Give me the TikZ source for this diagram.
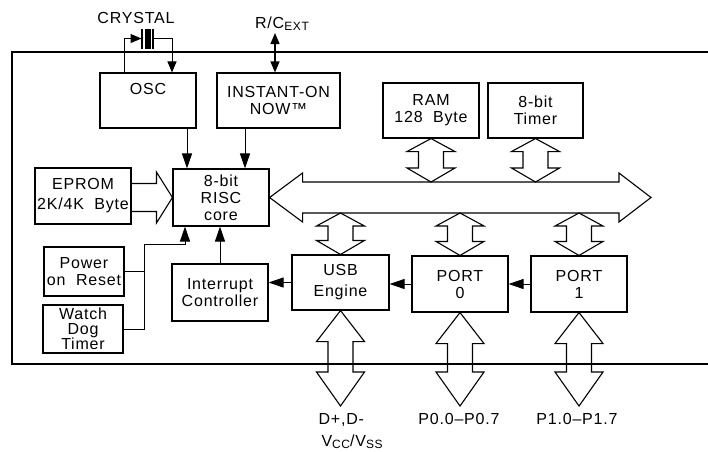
\documentclass[tikz,border=0pt]{standalone}
\usepackage{fontspec}
\setmainfont{Liberation Sans}[LetterSpace=5]
\usetikzlibrary{arrows.meta,calc,positioning}

\newcommand{\lowsub}[1]{\raisebox{-2.5pt}{\fontsize{12}{12}\selectfont #1}}
% hollow double block arrow, top point to bottom point
\newcommand{\vbusarrow}[4]{%
  \draw[bus] let \p1=#1, \p2=#2 in
    (\x1,\y1) -- ($(\x1,\y1)+(24,#3)$) -- ($(\x1,\y1)+(12.5,#3)$)
    -- ($(\x1,\y2)+(12.5,-#4)$) -- ($(\x1,\y2)+(24,-#4)$) -- (\x1,\y2)
    -- ($(\x1,\y2)+(-24,-#4)$) -- ($(\x1,\y2)+(-12.5,-#4)$)
    -- ($(\x1,\y1)+(-12.5,#3)$) -- ($(\x1,\y1)+(-24,#3)$) -- cycle;}

\tikzset{
  blk/.style={draw, line width=1.1pt, inner sep=0pt, align=center},
  sig/.style={-{Triangle[length=15pt,width=10pt]}, line width=1pt},
  xsig/.style={-{Triangle[length=11pt,width=9pt]}, line width=1pt},
  dsig/.style={{Triangle[length=11pt,width=9pt]}-{Triangle[length=11pt,width=9pt]}, line width=1.3pt},
  bus/.style={line width=1.1pt, line join=miter},
}

\begin{document}
\begin{tikzpicture}[x=1pt,y=-1pt,
  every node/.style={font=\fontsize{16}{17}\selectfont}]
\useasboundingbox (0,0) rectangle (708,451);

% chip outline
\draw[line width=1.1pt] (708,52) -| (12,364) -- (708,364);

% blocks
\node[blk, minimum width=96pt, minimum height=55pt] (osc) at (148,100.5) {};
\node[anchor=base] (osctxt) at ([yshift=-22pt]osc.north) {OSC};
\node[blk, minimum width=123pt, minimum height=55pt] (inst) at (278.5,100.5) {INSTANT-ON\\NOW™};
\node[blk, minimum width=96pt, minimum height=55pt] (ram) at (431,110.5) {RAM\\128\ \ Byte};
\node[blk, minimum width=95pt, minimum height=55pt] (timer) at (535.5,110.5) {8-bit\\Timer};
\node[blk, minimum width=96pt, minimum height=56pt] (eprom) at (83,196) {EPROM\\[3pt]2K/4K\ \ Byte};
\node[blk, minimum width=96pt, minimum height=57pt] (risc) at (221,197.5) {8-bit\\RISC\\core};
\node[blk, minimum width=80pt, minimum height=49pt] (por) at (84,271.5) {Power\\on\ \ Reset};
\node[blk, minimum width=80pt, minimum height=48pt,
  font=\fontsize{16}{14.5}\selectfont] (wdt) at (83,329) {Watch\\Dog\\Timer};
\node[blk, minimum width=96pt, minimum height=57pt] (intc) at (220,292.5) {Interrupt\\Controller};
\node[blk, minimum width=97pt, minimum height=55pt] (usb) at (340.5,282.5) {USB\\[4pt]Engine};
\node[blk, minimum width=96pt, minimum height=56pt] (port0) at (460,284) {PORT\\0};
\node[blk, minimum width=96pt, minimum height=56pt] (port1) at (579,284) {PORT\\1};

% crystal
\coordinate (xtal) at (147.5,38.5);
\coordinate (xtalL) at ($(xtal)+(-6,0)$);
\coordinate (xtalR) at ($(xtal)+(6,0)$);
\fill ($(xtal)+(-3,-10)$) rectangle ($(xtal)+(3,10)$);
\draw[line width=1.5pt] ($(xtal)+(-5.5,-10)$) -- ($(xtal)+(-5.5,10)$)
  ($(xtal)+(5.5,-10)$) -- ($(xtal)+(5.5,10)$);
\node[anchor=base] (xtallbl) at (136,23) {CRYSTAL};
\draw[xsig] ([xshift=-24pt]osc.north) |- (xtalL);
\draw[xsig] (xtalR) -| ([xshift=24pt]osc.north);

% external R/C
\coordinate (rcext) at (275,33);
\node[anchor=base] (rclbl) at (282,28) {R/C\lowsub{EXT}};
\draw[dsig] (rcext) -- (rcext |- inst.north);

% signals into the core
\coordinate (riscinA) at ($(risc.north)+(-34,0)$);
\coordinate (riscinB) at ($(risc.north)+(24,0)$);
\coordinate (riscrst) at ($(risc.south)+(-36,0)$);
\coordinate (rstjoin) at (144,244);
\draw[sig] (riscinA |- osc.south) -- (riscinA);
\draw[sig] (riscinB |- inst.south) -- (riscinB);
\draw[line width=1pt] (por.east) -- (por.east -| rstjoin);
\draw[sig] (wdt.east) -| (rstjoin) -| (riscrst);
\draw[sig] (intc.north) -- (intc.north |- risc.south);
\draw[sig] (usb.west) -- (usb.west -| intc.east);
\draw[sig] (port0.west) -- (port0.west -| usb.east);
\draw[sig] (port1.west) -- (port1.west -| port0.east);

% internal bus
\coordinate (busend) at (651,197.5);
\coordinate (bustop) at (0,182);
\coordinate (busbot) at (0,213);
\draw[bus] let \p1=(risc.east), \p2=(busend) in
  (\x1,\y1) -- ($(\x1,\y1)+(33,-24.5)$) -- ($(\x1,\y1)+(33,-15.5)$)
  -- ($(\x2,\y1)+(-32,-15.5)$) -- ($(\x2,\y1)+(-32,-24.5)$) -- (\x2,\y1)
  -- ($(\x2,\y1)+(-32,24.5)$) -- ($(\x2,\y1)+(-32,15.5)$)
  -- ($(\x1,\y1)+(33,15.5)$) -- ($(\x1,\y1)+(33,24.5)$) -- cycle;
\draw[bus] let \p1=(eprom.east), \p2=(risc.west) in
  ($(\x1,\y2)+(0,-14)$) -- ($(\x2,\y2)+(-16,-14)$) -- ($(\x2,\y2)+(-16,-25.5)$)
  -- (\x2,\y2) -- ($(\x2,\y2)+(-16,25.5)$) -- ($(\x2,\y2)+(-16,14)$)
  -- ($(\x1,\y2)+(0,14)$);
\vbusarrow{(ram.south)}{(ram.south |- bustop)}{13}{14}
\vbusarrow{(timer.south)}{(timer.south |- bustop)}{13}{14}
\vbusarrow{(usb.north |- busbot)}{(usb.north)}{13}{14}
\vbusarrow{(port0.north |- busbot)}{(port0.north)}{13}{14}
\vbusarrow{(port1.north |- busbot)}{(port1.north)}{13}{14}

% pins
\coordinate (usbpin) at (340.5,406);
\coordinate (p0pin) at (460,406);
\coordinate (p1pin) at (579,406);
\vbusarrow{(usb.south)}{(usbpin)}{31}{34}
\vbusarrow{(port0.south)}{(p0pin)}{31}{34}
\vbusarrow{(port1.south)}{(p1pin)}{31}{34}
\node[anchor=base west] (dlbl) at (315,424) {D+,D-};
\node[anchor=base west] (vlbl) at (318,446) {V\lowsub{CC}/V\lowsub{SS}};
\node[anchor=base] (p0lbl) at (459,424) {P0.0–P0.7};
\node[anchor=base] (p1lbl) at (577,424) {P1.0–P1.7};
\end{tikzpicture}
\end{document}
